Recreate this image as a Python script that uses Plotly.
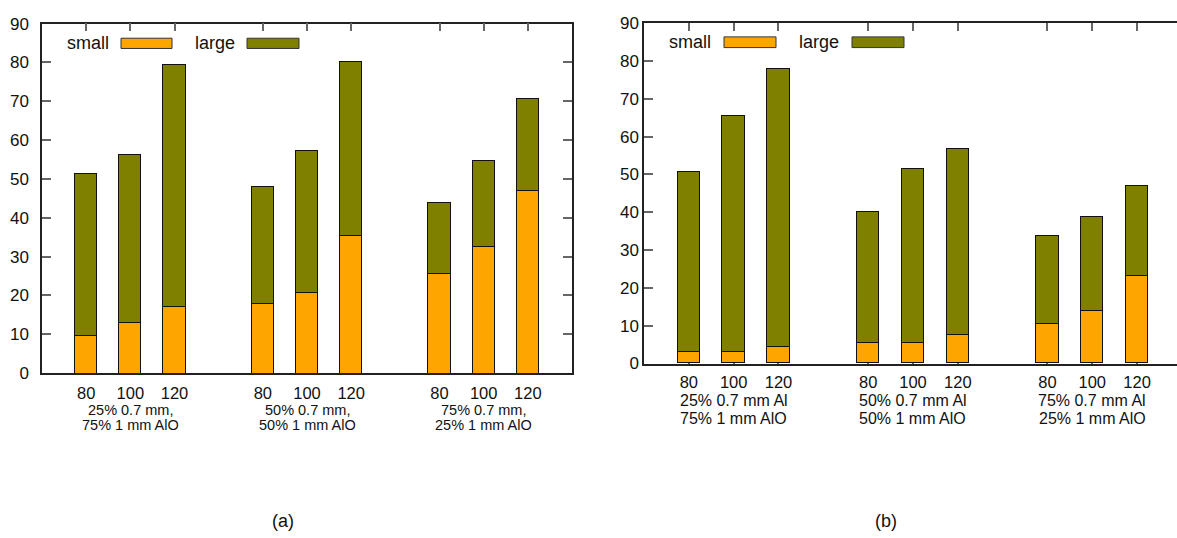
import plotly.graph_objects as go

W, H = 1177, 538

# Tube voltages (kV) within each filter group
voltages = ["80", "100", "120"]

# Filter combinations, two text lines per group
groups_a_line1 = ["25% 0.7 mm,", "50% 0.7 mm,", "75% 0.7 mm,"]
groups_b_line1 = ["25% 0.7 mm Al", "50% 0.7 mm Al", "75% 0.7 mm Al"]
groups_line2 = ["75% 1 mm AlO", "50% 1 mm AlO", "25% 1 mm AlO"]

# Panel (a): small / total stacked heights
small_a = [9.7, 13.0, 17.0, 17.9, 20.8, 35.3, 25.7, 32.7, 47.1]
total_a = [51.4, 56.2, 79.4, 47.9, 57.2, 80.2, 43.9, 54.6, 70.7]

# Panel (b): small / total stacked heights
small_b = [3.1, 3.1, 4.4, 5.4, 5.4, 7.4, 10.4, 13.8, 23.2]
total_b = [50.7, 65.3, 77.8, 40.1, 51.5, 56.8, 33.8, 38.6, 46.9]

series_names = ["small", "large"]
series_colors = ["#FFA500", "#808000"]

FONT = "Liberation Sans, Arial, sans-serif"

# bar slots: three bars per group, one empty slot between groups
positions = [g * 4 + i for g in range(3) for i in range(3)]
tick_text = [voltages[i] for g in range(3) for i in range(3)]
group_centers = [g * 4 + 1 for g in range(3)]


def px_x(p):
    return p / W


def px_y(p):
    return 1 - p / H


fig = go.Figure()

panels = [
    dict(small=small_a, total=total_a, xa="x", ya="y"),
    dict(small=small_b, total=total_b, xa="x2", ya="y2"),
]

for pnl in panels:
    large = [t - s for s, t in zip(pnl["small"], pnl["total"])]
    for name, vals, col in zip(series_names, [pnl["small"], large], series_colors):
        fig.add_trace(go.Bar(
            x=positions, y=vals, name=name, width=0.5,
            marker=dict(color=col, line=dict(color="#111111", width=1)),
            xaxis=pnl["xa"], yaxis=pnl["ya"], showlegend=False,
            hoverinfo="skip",
        ))

common = dict(showgrid=False, zeroline=False, layer="below traces",
              ticks="inside", tickcolor="#666666", tickwidth=1.5)
frame = dict(showline=True, linecolor="#222222", linewidth=1.5, **common)

# vertical extents of the two plot areas (page pixels)
A_TOP, A_BOT = 15.1, 377.4
B_TOP, B_BOT = 14.7, 367.5

fig.update_layout(
    width=W, height=H, margin=dict(l=0, r=0, t=0, b=0),
    paper_bgcolor="white", plot_bgcolor="white",
    barmode="stack", bargap=0, showlegend=False,
    font=dict(family=FONT, color="#111111"),
    # panel (a): closed frame with mirrored ticks
    xaxis=dict(domain=[px_x(42), px_x(572)], range=[-1, 11], anchor="y",
               tickvals=positions, ticktext=tick_text, ticklen=8,
               tickfont=dict(size=16.5), ticklabelstandoff=4,
               mirror="ticks", **frame),
    yaxis=dict(domain=[px_y(A_BOT), px_y(A_TOP)], range=[0, 90], anchor="x",
               dtick=10, ticklen=9, tickfont=dict(size=17),
               ticklabelstandoff=8, mirror="ticks", **frame),
    # panel (b): right edge runs off the page, only its ticks show
    xaxis2=dict(domain=[px_x(644), 1], range=[-1, 10.89], anchor="y2",
                tickvals=positions, ticktext=tick_text, ticklen=8,
                tickfont=dict(size=16.5), ticklabelstandoff=3,
                mirror="ticks", **frame),
    yaxis2=dict(domain=[px_y(B_BOT), px_y(B_TOP)], range=[0, 90], anchor="x2",
                dtick=10, ticklen=9, tickfont=dict(size=17),
                ticklabelstandoff=0, mirror=False, **frame),
    yaxis3=dict(domain=[px_y(B_BOT), px_y(B_TOP)], range=[0, 90],
                anchor="x2", overlaying="y2", side="right", dtick=10,
                ticklen=9, showticklabels=False, showline=False, **common),
)

annotations = []
# group captions under each panel
for gc, l1, l2 in zip(group_centers, groups_a_line1, groups_line2):
    for txt, yy in ((l1, 415.7), (l2, 431.5)):
        annotations.append(dict(x=gc, xref="x", y=px_y(yy), yref="paper",
                                text=txt, showarrow=False,
                                font=dict(size=14.5),
                                xanchor="center", yanchor="middle"))
for gc, l1, l2 in zip(group_centers, groups_b_line1, groups_line2):
    for txt, yy in ((l1, 405.8), (l2, 424.3)):
        annotations.append(dict(x=gc, xref="x2", y=px_y(yy), yref="paper",
                                text=txt, showarrow=False,
                                font=dict(size=16),
                                xanchor="center", yanchor="middle"))

# panel letters
for txt, cx in (("(a)", 283), ("(b)", 886)):
    annotations.append(dict(x=px_x(cx), y=px_y(530.5), xref="paper",
                            yref="paper", text=txt, showarrow=False,
                            xanchor="center", yanchor="middle",
                            font=dict(size=18)))

# in-plot keys: label followed by a colour swatch
shapes = []
keys = [
    # (label right edge, swatch x0, swatch x1, swatch y0, swatch y1)
    [(111, 121, 172, 30.3, 40.9), (237, 247, 299, 30.3, 40.9)],
    [(713, 724, 776, 28.9, 40.0), (841, 852, 904, 28.9, 40.0)],
]
for panel_keys in keys:
    for (tx, x0, x1, y0, y1), name, col in zip(panel_keys, series_names, series_colors):
        annotations.append(dict(x=px_x(tx), y=px_y((y0 + y1) / 2 - 0.5),
                                xref="paper", yref="paper", text=name,
                                showarrow=False, xanchor="right",
                                yanchor="middle", font=dict(size=18)))
        shapes.append(dict(type="rect", xref="paper", yref="paper",
                           x0=px_x(x0), x1=px_x(x1), y0=px_y(y1), y1=px_y(y0),
                           fillcolor=col, line=dict(color="#333333", width=1)))

fig.update_layout(annotations=annotations, shapes=shapes)

fig.write_html("out.html")
